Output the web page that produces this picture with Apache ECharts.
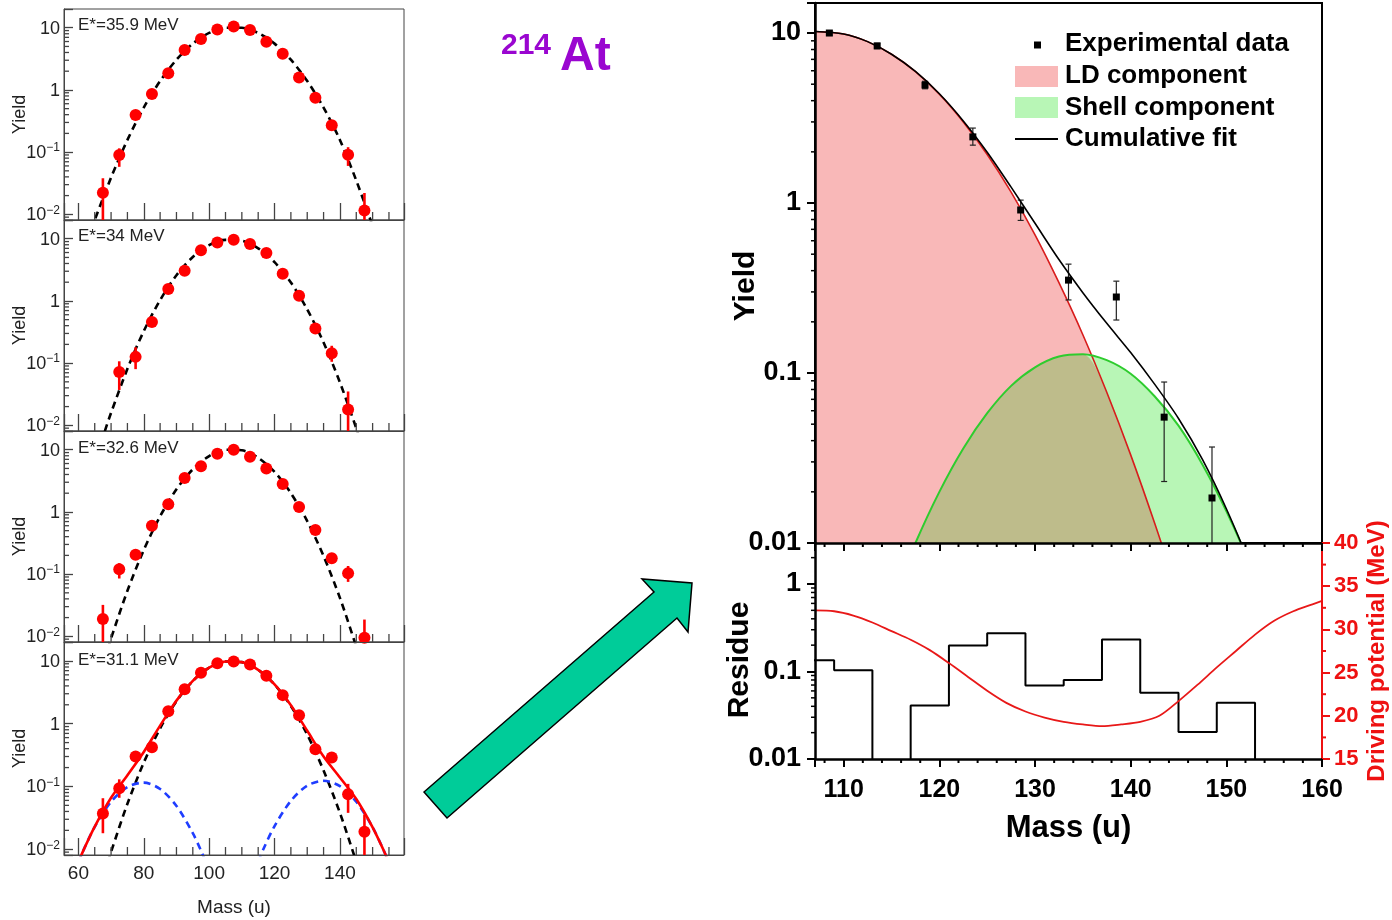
<!DOCTYPE html>
<html><head><meta charset="utf-8">
<script src="https://cdn.jsdelivr.net/npm/echarts@6/dist/echarts.min.js"></script>
<style>html,body{margin:0;padding:0;background:#fff}#c{width:1392px;height:920px}</style>
</head><body><div id="c"></div>
<script>
// ---------------- LEFT: four excitation energies ----------------
const massBins = [67.5,72.5,77.5,82.5,87.5,92.5,97.5,102.5,107.5,112.5,117.5,122.5,127.5,132.5,137.5,142.5,147.5];
const panelLabels = ['E*=35.9 MeV','E*=34 MeV','E*=32.6 MeV','E*=31.1 MeV'];

const yield359 = [0.0223,0.090,0.395,0.86,1.85,4.4,6.6,9.4,10.5,9.2,5.95,3.8,1.59,0.75,0.27,0.091,0.0115];
const err359 = [[0.004,0.038],[0.058,0.115],null,null,null,null,null,null,null,null,null,null,null,null,null,[0.06,0.12],[0.004,0.022]];
const yield34 = [null,0.072,0.126,0.46,1.55,3.06,6.5,8.7,9.6,8.2,5.9,2.74,1.21,0.36,0.144,0.018,null];
const err34 = [null,[0.037,0.107],[0.08,0.18],null,null,null,null,null,null,null,null,null,null,null,[0.105,0.19],[0.004,0.035],null];
const yield326 = [0.019,0.12,0.204,0.60,1.33,3.5,5.4,8.6,10.0,7.7,5.0,2.81,1.2,0.51,0.18,0.103,0.0095];
const err326 = [[0.004,0.032],[0.085,0.15],null,null,null,null,null,null,null,null,null,null,null,null,null,[0.075,0.135],[0.004,0.0186]];
const yield311 = [0.037,0.094,0.30,0.42,1.58,3.55,6.5,9.2,9.75,8.8,5.8,2.85,1.36,0.39,0.29,0.075,0.019];
const err311 = [[0.018,0.065],[0.066,0.13],null,null,null,null,null,null,null,null,null,null,null,null,null,[0.038,0.11],[0.004,0.036]];

const fitMass359 = [64,65,70,75,80,85,90,95,100,105,110,115,120,125,130,135,140,145,150,151];
const fit359 = [0.0057,0.0081,0.039,0.157,0.52,1.39,3.06,5.55,8.24,10.0,10.0,8.24,5.55,3.06,1.39,0.52,0.157,0.035,0.0065,0.0045];
const fitMass34 = [67,68,70,75,80,85,90,95,100,105,110,115,120,125,130,135,140,145,146];
const fit34 = [0.0053,0.0078,0.0159,0.081,0.327,1.03,2.59,5.09,7.9,9.6,9.3,7.0,4.2,1.98,0.73,0.215,0.049,0.009,0.0062];
const fitMass326 = [69,70,75,80,85,90,95,100,105,110,115,120,125,130,135,140,145,146];
const fit326 = [0.0063,0.0093,0.054,0.244,0.85,2.31,4.85,7.9,10.0,9.8,7.4,4.4,2.0,0.71,0.195,0.0415,0.0068,0.0046];
const fitMass311 = [69,70,75,80,85,90,95,100,105,110,115,120,125,130,135,140,144,145];
const fit311 = [0.0062,0.0091,0.053,0.24,0.84,2.28,4.8,7.8,9.8,9.55,7.2,4.2,1.91,0.67,0.18,0.038,0.0091,0.0062];
const shellLeftMass311 = [60,61.5,65,70,75,80,85,90,95,97.5,99];
const shellLeft311 = [0.0062,0.0095,0.0228,0.057,0.098,0.115,0.091,0.049,0.018,0.0095,0.0062];
const shellRightMass311 = [115,116.5,120,125,130,135,140,145,150,153.5,155];
const shellRight311 = [0.0064,0.0098,0.0234,0.059,0.103,0.123,0.101,0.057,0.0224,0.0093,0.006];
const totalMass311 = [59.5,61.5,65,70,75,80,85,90,95,100,105,110,115,120,125,130,135,140,145,150,153.5,155];
const total311 = [0.0053,0.0095,0.023,0.066,0.151,0.355,0.93,2.33,4.82,7.8,9.8,9.55,7.2,4.22,1.97,0.77,0.30,0.139,0.063,0.0224,0.0093,0.006];

const leftXMinorTicks = [65,70,75,85,90,95,105,110,115,125,130,135,145,150,155];

// ---------------- RIGHT: 214At decomposition ----------------
const expMass = [108.5,113.5,118.5,123.5,128.5,133.5,138.5,143.5,148.5];
const expYield = [10.0,8.4,4.94,2.45,0.91,0.352,0.28,0.055,0.0184];
const expLow = [9.7,8.1,4.7,2.19,0.79,0.269,0.205,0.023,0.004];
const expHigh = [10.3,8.7,5.2,2.76,1.04,0.437,0.347,0.0885,0.0367];

const fitMass = [107,110,112.5,115,117.5,120,122.5,125,127.5,130,132.5,135,137.5,140,142.5,145,147.5,150,152.5,155];
const ldYield = [10.2,9.87,8.9,7.5,5.93,4.37,3.0,1.93,1.16,0.65,0.34,0.168,0.077,0.033,0.0131,0.0049,0.0017,null,null,null];
const shellYield = [null,null,null,0.0045,0.01,0.020,0.036,0.058,0.084,0.108,0.125,0.129,0.119,0.099,0.073,0.049,0.029,0.0154,0.0074,0.0032];
const cumYield = [10.2,9.87,8.9,7.5,5.94,4.39,3.04,1.99,1.24,0.76,0.465,0.297,0.196,0.132,0.086,0.054,0.031,0.0159,0.0074,0.0032];

const resEdges = [105,109,113,117,121,125,129,133,137,141,145,149,153];
const resValues = [0.134,0.103,0.005,0.041,0.198,0.274,0.069,0.080,0.232,0.057,0.0204,0.044,0.005];

const dpMass = [107,109,111,113,115,117,119,121,123,125,127,129,131,133,135,137,139,141,143,145,147,149,151,153,155,157,159,160];
const dpValue = [32.2,32.1,31.6,30.8,29.8,28.8,27.6,26.1,24.5,22.9,21.5,20.5,19.8,19.3,19.0,18.8,19.0,19.3,20.0,21.7,23.6,25.6,27.5,29.4,31.0,32.1,32.9,33.3];

const rightXMinorTicks = [108,112,114,116,118,122,124,126,128,132,134,136,138,142,144,146,148,152,154,156,158];
const dpMinorTicks = [17.5,22.5,27.5,32.5,37.5];
const legendNames = ['Experimental data','LD component','Shell component','Cumulative fit'];

// ---------------- helpers ----------------
const FONT = '"Liberation Sans", Arial, Helvetica, sans-serif';
const LX = [55.6, 159.6], LY = [0.0081, 20];
const RX = [107, 160];
function logMinor(lo, hi){ const out=[]; for(let d=-4; d<=2; d++){ for(let k=2;k<=9;k++){ const v=k*Math.pow(10,d); if(v>lo*1.0001 && v<hi*0.9999) out.push(+v.toPrecision(3)); } } return out; }
function isPow10(v){ const l=Math.log10(v); return Math.abs(l-Math.round(l))<1e-6; }
function sciFmt(v){ if(!isPow10(v)) return ''; const e=Math.round(Math.log10(v)); if(e===1) return '{b|10}'; if(e===0) return '{b|1}'; return '{b|10}{s|\u2212'+(-e)+'}'; }
function decFmt(v){ if(!isPow10(v)) return ''; const e=Math.round(Math.log10(v)); return e>=0 ? String(Math.pow(10,e)) : Math.pow(10,e).toFixed(-e); }
function pairs(xs, ys){ const o=[]; xs.forEach((x,i)=>{ if(ys[i]!=null) o.push([x,ys[i]]); }); return o; }

function tickSeries(xIdx, yIdx, items, dir, len, color, width){
  return {type:'custom', xAxisIndex:xIdx, yAxisIndex:yIdx, silent:true, z:10, clip:false, data:items,
    renderItem(params, api){
      const cs=params.coordSys; const p=api.coord([api.value(0), api.value(1)]);
      let s;
      if(dir==='up'){ const y=cs.y+cs.height; s={x1:p[0],y1:y,x2:p[0],y2:y-len}; }
      else if(dir==='down'){ const y=cs.y+cs.height; s={x1:p[0],y1:y,x2:p[0],y2:y+len}; }
      else if(dir==='in'){ s={x1:cs.x,y1:p[1],x2:cs.x+len,y2:p[1]}; }
      else if(dir==='out'){ s={x1:cs.x,y1:p[1],x2:cs.x-len,y2:p[1]}; }
      else { const x=cs.x+cs.width; s={x1:x,y1:p[1],x2:x+len,y2:p[1]}; }
      return {type:'line', shape:s, style:{stroke:color, lineWidth:width}};
    }};
}
function errSeries(xIdx, yIdx, items, color, width, cap){
  return {type:'custom', xAxisIndex:xIdx, yAxisIndex:yIdx, silent:true, z:3, clip:true, data:items,
    renderItem(params, api){
      const x=api.value(0), lo=api.value(1), hi=api.value(2);
      const a=api.coord([x,lo]), b=api.coord([x,hi]);
      const st={stroke:color, lineWidth:width};
      const ch=[{type:'line', shape:{x1:a[0],y1:a[1],x2:b[0],y2:b[1]}, style:st}];
      if(cap){
        ch.push({type:'line', shape:{x1:a[0]-cap,y1:a[1],x2:a[0]+cap,y2:a[1]}, style:st});
        ch.push({type:'line', shape:{x1:b[0]-cap,y1:b[1],x2:b[0]+cap,y2:b[1]}, style:st});
      }
      return {type:'group', children:ch};
    }};
}

// ---------------- build option ----------------
const grid=[], xAxis=[], yAxis=[], series=[], graphic=[];
const leftTops=[9,220,431,642], leftHeights=[211,211,211,213];
const leftYields=[yield359,yield34,yield326,yield311];
const leftErrs=[err359,err34,err326,err311];
const leftFitMass=[fitMass359,fitMass34,fitMass326,fitMass311];
const leftFits=[fit359,fit34,fit326,fit311];
const leftYMinor = logMinor(LY[0], LY[1]);
const labelCol='#222', frameCol='#444';

for(let i=0;i<4;i++){
  grid.push({left:64, top:leftTops[i], width:340, height:leftHeights[i], show:true, borderColor:frameCol, borderWidth:1, backgroundColor:'transparent'});
  xAxis.push({type:'value', gridIndex:i, min:LX[0], max:LX[1], z:5, nameMoveOverlap:false,
    axisLine:{show:true, onZero:false, lineStyle:{color:frameCol, width:1}},
    axisTick:{show:true, inside:true, length:17, lineStyle:{color:frameCol, width:1.3}},
    splitLine:{show:false},
    axisLabel:{show:i===3, margin:9, fontSize:19, fontFamily:FONT, color:labelCol, formatter:v=> (Math.abs(v%20)<1e-6 ? String(v) : '')},
    name: i===3 ? 'Mass (u)' : '', nameLocation:'middle', nameGap:43,
    nameTextStyle:{fontSize:19, fontFamily:FONT, color:labelCol}});
  yAxis.push({type:'log', logBase:10, gridIndex:i, min:LY[0], max:LY[1], z:5, nameMoveOverlap:false,
    axisLine:{show:true, lineStyle:{color:frameCol, width:1}},
    axisTick:{show:true, inside:true, length:9, lineStyle:{color:frameCol, width:1.3}},
    splitLine:{show:false}, minorTick:{show:false},
    axisLabel:{margin:4, formatter:sciFmt,
      rich:{b:{fontSize:18, fontFamily:FONT, color:labelCol, lineHeight:20, verticalAlign:'bottom'},
            s:{fontSize:12, fontFamily:FONT, color:labelCol, lineHeight:12, verticalAlign:'top'}}},
    name:'Yield', nameLocation:'middle', nameGap:35, nameRotate:90,
    nameTextStyle:{fontSize:18, fontFamily:FONT, color:labelCol}});

  series.push({type:'line', xAxisIndex:i, yAxisIndex:i, data:pairs(leftFitMass[i], leftFits[i]), showSymbol:false, smooth:0.3, silent:true, z:2,
    lineStyle:{color:'#000', width:2.6, type:[7,5]}});
  if(i===3){
    series.push({type:'line', xAxisIndex:i, yAxisIndex:i, data:pairs(shellLeftMass311, shellLeft311), showSymbol:false, smooth:0.3, silent:true, z:2,
      lineStyle:{color:'#1f3dff', width:2.6, type:[7,5]}});
    series.push({type:'line', xAxisIndex:i, yAxisIndex:i, data:pairs(shellRightMass311, shellRight311), showSymbol:false, smooth:0.3, silent:true, z:2,
      lineStyle:{color:'#1f3dff', width:2.6, type:[7,5]}});
    series.push({type:'line', xAxisIndex:i, yAxisIndex:i, data:pairs(totalMass311, total311), showSymbol:false, smooth:0.3, silent:true, z:2,
      lineStyle:{color:'#ff0000', width:2.6}});
  }
  const errs=[]; massBins.forEach((m,k)=>{ const e=leftErrs[i][k]; if(e) errs.push([m,e[0],e[1]]); });
  series.push(errSeries(i,i,errs,'#ff0000',2.6,0));
  series.push({type:'scatter', xAxisIndex:i, yAxisIndex:i, data:pairs(massBins, leftYields[i]), symbol:'circle', symbolSize:12, silent:true, z:4,
    itemStyle:{color:'#ff0000', opacity:1}});
  series.push(tickSeries(i,i,leftXMinorTicks.map(v=>[v,1]),'up',8,frameCol,1.3));
  series.push(tickSeries(i,i,leftYMinor.map(v=>[100,v]),'in',5,frameCol,1.3));
  graphic.push({type:'text', x:78, y:[25,236,448,660][i], silent:true,
    style:{text:panelLabels[i], fontSize:17, fontFamily:FONT, fill:labelCol, align:'left', verticalAlign:'middle'}});
}

// right grids
grid.push({left:815, top:3, width:507, height:540, show:true, borderColor:'#000', borderWidth:2, backgroundColor:'transparent'});
grid.push({left:815, top:543, width:507, height:216, show:false});
const boldLab = {fontSize:25, fontWeight:'bold', fontFamily:FONT, color:'#000'};
const nameStyle = {fontSize:30, fontWeight:'bold', fontFamily:FONT, color:'#000'};
xAxis.push({type:'value', gridIndex:4, min:RX[0], max:RX[1], z:10,
  axisLine:{show:true, onZero:false, lineStyle:{color:'#000', width:2.5}},
  axisTick:{show:true, inside:false, length:8, lineStyle:{color:'#000', width:2}},
  axisLabel:{show:false}, splitLine:{show:false}});
xAxis.push({type:'value', gridIndex:5, min:RX[0], max:RX[1], z:10, nameMoveOverlap:false,
  axisLine:{show:true, onZero:false, lineStyle:{color:'#000', width:2.5}},
  axisTick:{show:true, inside:false, length:8, lineStyle:{color:'#000', width:2}},
  axisLabel:Object.assign({margin:19, formatter:v=> (Math.abs(v%10)<1e-6 ? String(v) : '')}, boldLab),
  splitLine:{show:false},
  name:'Mass (u)', nameLocation:'middle', nameGap:54,
  nameTextStyle:Object.assign({}, nameStyle, {fontSize:31})});
yAxis.push({type:'log', logBase:10, gridIndex:4, min:0.01, max:15.02, z:10, nameMoveOverlap:false,
  axisLine:{show:true, lineStyle:{color:'#000', width:2.5}},
  axisTick:{show:true, inside:false, length:8, lineStyle:{color:'#000', width:2}},
  axisLabel:Object.assign({margin:14, formatter:decFmt}, boldLab, {fontSize:27}),
  splitLine:{show:false}, minorTick:{show:false},
  name:'Yield', nameLocation:'middle', nameGap:54, nameRotate:90,
  nameTextStyle:Object.assign({padding:[0,26,0,0]}, nameStyle)});
yAxis.push({type:'log', logBase:10, gridIndex:5, min:0.01, max:2.94, z:10, nameMoveOverlap:false,
  axisLine:{show:true, lineStyle:{color:'#000', width:2.5}},
  axisTick:{show:true, inside:false, length:8, lineStyle:{color:'#000', width:2}},
  axisLabel:Object.assign({margin:14, formatter:decFmt}, boldLab, {fontSize:27}),
  splitLine:{show:false}, minorTick:{show:false},
  name:'Residue', nameLocation:'middle', nameGap:60, nameRotate:90,
  nameTextStyle:Object.assign({padding:[0,18,0,0]}, nameStyle)});
yAxis.push({type:'value', gridIndex:5, position:'right', min:15, max:40, interval:5, z:10, nameMoveOverlap:false,
  axisLine:{show:true, lineStyle:{color:'#ee1111', width:2}},
  axisTick:{show:true, inside:false, length:8, lineStyle:{color:'#ee1111', width:2}},
  axisLabel:{margin:12, fontSize:22, fontWeight:'bold', fontFamily:FONT, color:'#ee1111'},
  splitLine:{show:false},
  name:'Driving potential (MeV)', nameLocation:'middle', nameGap:43, nameRotate:90,
  nameTextStyle:{fontSize:24, fontWeight:'bold', fontFamily:FONT, color:'#ee1111'}});

// right top panel series
const overlap = fitMass.map((m,k)=> (ldYield[k]!=null && shellYield[k]!=null) ? Math.min(ldYield[k], shellYield[k]) : null);
series.push({type:'line', xAxisIndex:4, yAxisIndex:4, data:pairs(fitMass, ldYield), showSymbol:false, smooth:0.3, silent:true, z:1,
  lineStyle:{width:0}, areaStyle:{color:'#f9b8b8', opacity:1, origin:'start'}});
series.push({type:'line', xAxisIndex:4, yAxisIndex:4, data:pairs(fitMass, shellYield), showSymbol:false, smooth:0.3, silent:true, z:1,
  lineStyle:{width:0}, areaStyle:{color:'#b8f6b6', opacity:1, origin:'start'}});
series.push({type:'line', xAxisIndex:4, yAxisIndex:4, data:pairs(fitMass, overlap), showSymbol:false, smooth:0.3, silent:true, z:1,
  lineStyle:{width:0}, areaStyle:{color:'#bebc8b', opacity:1, origin:'start'}});
series.push({type:'line', xAxisIndex:4, yAxisIndex:4, data:pairs(fitMass, ldYield), showSymbol:false, smooth:0.3, silent:true, z:2,
  lineStyle:{color:'#d81c1c', width:1.6}});
series.push({type:'line', xAxisIndex:4, yAxisIndex:4, data:pairs(fitMass, shellYield), showSymbol:false, smooth:0.3, silent:true, z:2,
  lineStyle:{color:'#2ecc2e', width:2}});
series.push({type:'line', xAxisIndex:4, yAxisIndex:4, data:pairs(fitMass, cumYield), showSymbol:false, smooth:0.3, silent:true, z:3,
  lineStyle:{color:'#000', width:1.6}});
series.push(errSeries(4,4,expMass.map((m,k)=>[m,expLow[k],expHigh[k]]),'#222',1.2,3));
series.push({type:'scatter', xAxisIndex:4, yAxisIndex:4, data:pairs(expMass, expYield), symbol:'rect', symbolSize:7, silent:true, z:5,
  itemStyle:{color:'#000', opacity:1}});
series.push({type:'line', xAxisIndex:5, yAxisIndex:5, data:pairs(resEdges, resValues), step:'end', showSymbol:false, silent:true, z:3,
  lineStyle:{color:'#000', width:2}});
series.push({type:'line', xAxisIndex:5, yAxisIndex:6, data:pairs(dpMass, dpValue), showSymbol:false, smooth:0.3, silent:true, z:3,
  lineStyle:{color:'#e81818', width:1.8}});
series.push(tickSeries(4,4,rightXMinorTicks.map(v=>[v,1]),'down',4,'#000',2));
series.push(tickSeries(5,5,rightXMinorTicks.map(v=>[v,1]),'down',4,'#000',2));
series.push(tickSeries(4,4,logMinor(0.01,15.02).map(v=>[120,v]),'out',4,'#000',1.5));
series.push(tickSeries(5,5,logMinor(0.01,2.94).map(v=>[120,v]),'out',4,'#000',1.5));
series.push(tickSeries(5,6,dpMinorTicks.map(v=>[120,v]),'rout',4,'#ee1111',2));

// legend (right)
graphic.push({type:'rect', shape:{x:1034, y:41.5, width:7, height:7}, style:{fill:'#000'}, silent:true});
graphic.push({type:'rect', shape:{x:1015, y:66, width:43, height:21}, style:{fill:'#f9b8b8'}, silent:true});
graphic.push({type:'rect', shape:{x:1015, y:97, width:43, height:21}, style:{fill:'#b8f6b6'}, silent:true});
graphic.push({type:'line', shape:{x1:1015, y1:139, x2:1058, y2:139}, style:{stroke:'#000', lineWidth:2}, silent:true});
[44,76,108,139].forEach((y,k)=>graphic.push({type:'text', x:1065, y:y, silent:true,
  style:{text:legendNames[k], fontSize:26, fontWeight:'bold', fontFamily:FONT, fill:'#000', align:'left', verticalAlign:'middle'}}));

// 214At label
graphic.push({type:'text', x:501, y:46, silent:true, style:{text:'214', fontSize:30, fontWeight:'bold', fontFamily:FONT, fill:'#9a06d0', align:'left', verticalAlign:'middle'}});
graphic.push({type:'text', x:560, y:57, silent:true, style:{text:'At', fontSize:48, fontWeight:'bold', fontFamily:FONT, fill:'#9a06d0', align:'left', verticalAlign:'middle'}});
graphic.push({type:'polygon', silent:true, shape:{points:[[424,792],[447,818],[677,618],[688,632],[692,583],[642,579],[654,592]]},
  style:{fill:'#00cc99', stroke:'#000', lineWidth:1.5}});

const chart = echarts.init(document.getElementById('c'), null, {renderer:'canvas'});
chart.setOption({animation:false, backgroundColor:'#fff', grid, xAxis, yAxis, series, graphic});
</script></body></html>
